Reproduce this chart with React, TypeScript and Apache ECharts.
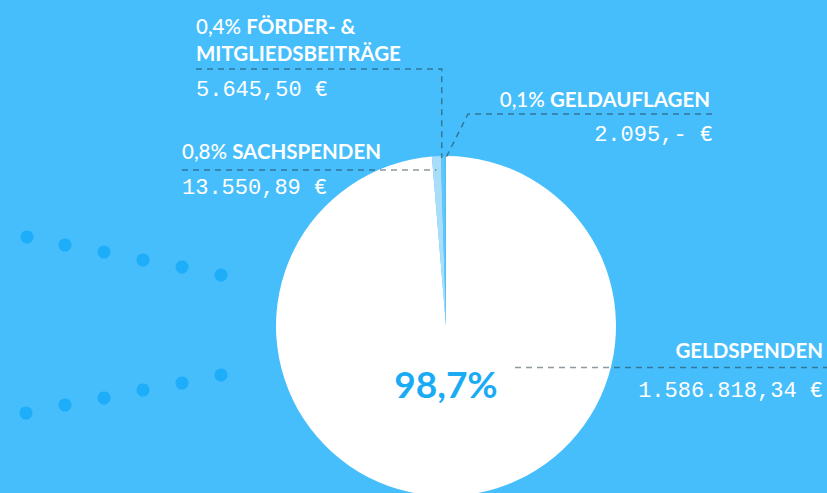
import React, { useEffect, useRef } from "react";
import * as echarts from "echarts";

// ---- data ----
const categories = ["GELDSPENDEN", "SACHSPENDEN", "FÖRDER- &", "GELDAUFLAGEN"];
const amounts = [1586818.34, 13550.89, 5645.5, 2095];
const percentLabels = ["98,7%", "0,8%", "0,4%", "0,1%"];
const amountLabels = ["1.586.818,34 €", "13.550,89 €", "5.645,50 €", "2.095,- €"];
const extraLine = ["", "", "MITGLIEDSBEITRÄGE", ""];
const sliceColors = ["#ffffff", "#a9ddf9", "#5ec6f9", "#4fc2fb"];

// ---- layout ----
const BG = "#46befb";
const CX = 446;
const CY = 326;
const R = 170;
const TITLE_FONT = "Lato, 'Open Sans', sans-serif";
const TITLE_SIZE = 20.5;
const MONO_FONT = "'Liberation Mono', 'DejaVu Sans Mono', monospace";
const LINE = { stroke: "rgba(30,50,60,0.5)", lineWidth: 1.5, lineDash: [6, 5], fill: "none" };

function anchorX(i: number): number {
  const total = amounts.reduce((a, b) => a + b, 0);
  let start = 0;
  for (let k = 0; k < i; k++) start += amounts[k];
  const mid = (start + amounts[i] / 2) / total;
  return CX + R * Math.sin(mid * Math.PI * 2);
}

export default function App() {
  const ref = useRef<HTMLDivElement>(null);
  useEffect(() => {
    document.body.style.margin = "0";
    if (!ref.current) return;
    const chart = echarts.init(ref.current, undefined, { renderer: "svg" });

    const titleRich = (pct: string, name: string) => ({
      text: `{p|${pct} }{n|${name}}`,
      rich: {
        p: { fontFamily: TITLE_FONT, fontSize: TITLE_SIZE, fontWeight: 500, fill: "#ffffff" },
        n: { fontFamily: TITLE_FONT, fontSize: TITLE_SIZE, fontWeight: "bold", fill: "#ffffff" },
      },
    });

    const dotsTop = [
      [27, 237], [65, 245], [104, 252], [143, 260], [182, 267], [221, 275],
    ];
    const dotsBottom = [
      [26, 413], [65, 405], [104, 398], [143, 390], [182, 383], [221, 375],
    ];
    const dots = [...dotsTop, ...dotsBottom].map(([x, y]) => ({
      type: "circle",
      shape: { cx: x, cy: y, r: 6.5 },
      style: { fill: "#1eadf8" },
      silent: true,
    }));

    const axS = anchorX(1);
    const axF = anchorX(2);
    const axG = anchorX(3);

    const graphics: any[] = [
      ...dots,
      // Förder- & Mitgliedsbeiträge
      {
        type: "text", x: 196, y: 26, z: 100,
        style: { ...titleRich(percentLabels[2], categories[2]), align: "left", verticalAlign: "middle" },
      },
      {
        type: "text", x: 196, y: 53, z: 100,
        style: { text: extraLine[2], fontFamily: TITLE_FONT, fontSize: TITLE_SIZE, fontWeight: "bold", fill: "#fff", align: "left", verticalAlign: "middle" },
      },
      { type: "polyline", z: 100, shape: { points: [[196, 69], [axF - 1, 69], [axF - 1, 158]] }, style: LINE, silent: true },
      {
        type: "text", x: 196, y: 90, z: 100,
        style: { text: amountLabels[2], fontFamily: MONO_FONT, fontSize: 22, fill: "#fff", align: "left", verticalAlign: "middle" },
      },
      // Sachspenden
      {
        type: "text", x: 182, y: 151, z: 100,
        style: { ...titleRich(percentLabels[1], categories[1]), align: "left", verticalAlign: "middle" },
      },
      { type: "polyline", z: 100, shape: { points: [[182, 170], [axS, 170]] }, style: LINE, silent: true },
      {
        type: "text", x: 182, y: 188, z: 100,
        style: { text: amountLabels[1], fontFamily: MONO_FONT, fontSize: 22, fill: "#fff", align: "left", verticalAlign: "middle" },
      },
      // Geldauflagen
      {
        type: "text", x: 710, y: 99, z: 100,
        style: { ...titleRich(percentLabels[3], categories[3]), align: "right", verticalAlign: "middle" },
      },
      { type: "polyline", z: 100, shape: { points: [[712, 114], [468, 114], [axG + 1, 157]] }, style: LINE, silent: true },
      {
        type: "text", x: 713, y: 135, z: 100,
        style: { text: amountLabels[3], fontFamily: MONO_FONT, fontSize: 22, fill: "#fff", align: "right", verticalAlign: "middle" },
      },
      // Geldspenden
      {
        type: "text", x: 823, y: 350, z: 100,
        style: { text: categories[0], fontFamily: TITLE_FONT, fontSize: TITLE_SIZE, fontWeight: "bold", fill: "#fff", align: "right", verticalAlign: "middle" },
      },
      { type: "polyline", z: 100, shape: { points: [[515, 367.5], [827, 367.5]] }, style: LINE, silent: true },
      {
        type: "text", x: 823, y: 391, z: 100,
        style: { text: amountLabels[0], fontFamily: MONO_FONT, fontSize: 22, fill: "#fff", align: "right", verticalAlign: "middle" },
      },
      // big percent
      {
        type: "text", x: CX, y: 383, z: 100,
        style: { text: percentLabels[0], fontFamily: TITLE_FONT, fontSize: 37, fontWeight: "bold", fill: "#1aabf5", align: "center", verticalAlign: "middle" },
      },
    ];

    chart.setOption({
      animation: false,
      backgroundColor: BG,
      series: [
        {
          type: "pie",
          center: [CX, CY],
          radius: R,
          startAngle: 90,
          clockwise: true,
          silent: true,
          label: { show: false },
          labelLine: { show: false },
          itemStyle: { borderWidth: 0 },
          emphasis: { disabled: true },
          data: categories.map((c, i) => ({
            name: c,
            value: amounts[i],
            itemStyle: { color: sliceColors[i] },
          })),
          z: 2,
        },
      ],
      graphic: { elements: graphics },
    });

    return () => chart.dispose();
  }, []);

  return <div ref={ref} style={{ width: 827, height: 493 }} />;
}
